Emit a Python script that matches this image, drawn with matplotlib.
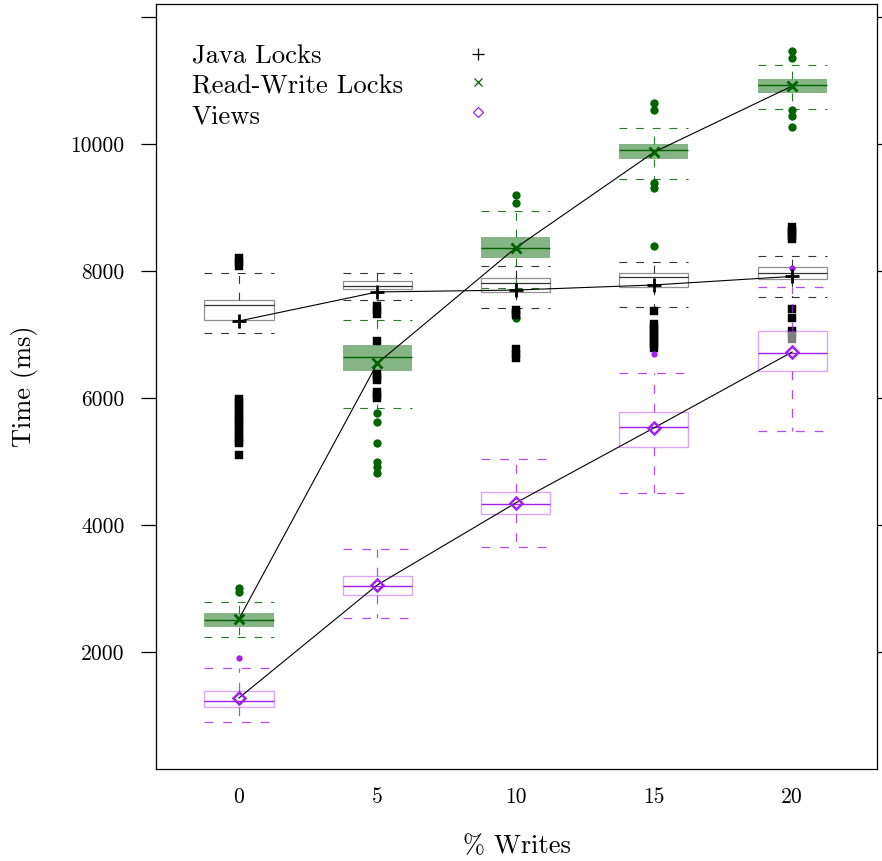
import numpy as np
import matplotlib
matplotlib.use("Agg")
import matplotlib.pyplot as plt

plt.rcParams['font.family'] = 'cmr10'
plt.rcParams['axes.formatter.use_mathtext'] = True

# % writes on the x axis
writes = [0, 5, 10, 15, 20]

# Java Locks box statistics (ms)
java_lo = [7024, 7543, 7417, 7433, 7591]
java_q1 = [7228, 7716, 7669, 7748, 7874]
java_med = [7465, 7764, 7811, 7906, 7968]
java_q3 = [7543, 7842, 7890, 7968, 8063]
java_hi = [7968, 7968, 8079, 8142, 8236]
java_mean = [7213, 7670, 7700, 7780, 7915]
java_out = [[8080, 8140, 8200,
             5990, 5930, 5870, 5810, 5750, 5690, 5630, 5570, 5510, 5450, 5390, 5330, 5290,
             5110],
            [7450, 7390, 7320, 6890, 6380, 6330, 6290, 6090, 6040, 6000],
            [7390, 7340, 7300, 6770, 6700, 6630],
            [7370, 7160, 7110, 7060, 7000, 6950, 6900, 6850, 6790],
            [8700, 8650, 8600, 8550, 8500, 7400, 7260, 7060, 7000, 6930]]

# Read-Write Locks
rw_lo = [2236, 5843, 7732, 9449, 10551]
rw_q1 = [2394, 6425, 8205, 9764, 10803]
rw_med = [2504, 6646, 8362, 9905, 10929]
rw_q3 = [2614, 6835, 8535, 10000, 11024]
rw_hi = [2787, 7228, 8945, 10252, 11244]
rw_mean = [2520, 6545, 8362, 9870, 10913]
rw_out = [[3008, 2945],
          [5764, 5622, 5291, 4992, 4913, 4819],
          [9197, 9071, 7260],
          [10646, 10535, 9386, 9307, 8394],
          [11465, 11354, 10535, 10441, 10268]]

# Views
views_lo = [898, 2535, 3654, 4504, 5480]
views_q1 = [1134, 2898, 4173, 5228, 6425]
views_med = [1228, 3039, 4331, 5543, 6709]
views_q3 = [1386, 3197, 4520, 5780, 7055]
views_hi = [1748, 3622, 5039, 6394, 7748]
views_mean = [1276, 3055, 4346, 5528, 6724]
views_out = [[1906], [], [], [6693], [8047]]

y_ticks = [2000, 4000, 6000, 8000, 10000, 12000]
y_ticklabels = ['2000', '4000', '6000', '8000', '10000', '']


def make_stats(lo, q1, med, q3, hi, out):
    stats = []
    for i in range(len(med)):
        stats.append(dict(whislo=lo[i], q1=q1[i], med=med[i], q3=q3[i],
                          whishi=hi[i], fliers=np.array(out[i], dtype=float)))
    return stats


dash = (0, (7, 8))
fig = plt.figure(figsize=(8.82, 8.61), dpi=100)
ax = fig.add_axes([156 / 882, 92 / 861, 721 / 882, 765 / 861])

green = '#006400'
purple = '#a020f0'

# Read-Write Locks boxes
ax.bxp(make_stats(rw_lo, rw_q1, rw_med, rw_q3, rw_hi, rw_out), positions=writes,
       widths=2.5, capwidths=2.5, patch_artist=True, manage_ticks=False,
       boxprops=dict(facecolor=(0, 0.39, 0, 0.48), edgecolor='none', zorder=2),
       whiskerprops=dict(color=green, linestyle=dash, linewidth=0.8, alpha=0.85, zorder=2),
       capprops=dict(color=green, linestyle=dash, linewidth=0.8, alpha=0.85, zorder=2),
       medianprops=dict(color=green, linewidth=1.0, zorder=2),
       flierprops=dict(marker='o', markersize=6, markerfacecolor=green,
                       markeredgecolor='none', linestyle='none', zorder=2))

# Java Locks boxes
ax.bxp(make_stats(java_lo, java_q1, java_med, java_q3, java_hi, java_out), positions=writes,
       widths=2.5, capwidths=2.5, patch_artist=True, manage_ticks=False,
       boxprops=dict(facecolor='none', edgecolor='#909090', linewidth=0.9, zorder=3),
       whiskerprops=dict(color='black', linestyle=dash, linewidth=0.8, alpha=0.8, zorder=3),
       capprops=dict(color='black', linestyle=dash, linewidth=0.8, alpha=0.8, zorder=3),
       medianprops=dict(color='black', linewidth=0.9, alpha=0.8, zorder=3),
       flierprops=dict(marker='s', markersize=6.2, markerfacecolor='black',
                       markeredgecolor='black', markeredgewidth=0.3,
                       linestyle='none', zorder=3))

# Views boxes
ax.bxp(make_stats(views_lo, views_q1, views_med, views_q3, views_hi, views_out), positions=writes,
       widths=2.5, capwidths=2.5, patch_artist=True, manage_ticks=False,
       boxprops=dict(facecolor=(1, 1, 1, 0.5), edgecolor=(0.63, 0.13, 0.94, 0.4),
                     linewidth=1.0, zorder=4),
       whiskerprops=dict(color=purple, linestyle=dash, linewidth=0.9, alpha=0.8, zorder=4),
       capprops=dict(color=purple, linestyle=dash, linewidth=0.9, alpha=0.8, zorder=4),
       medianprops=dict(color=purple, linewidth=1.0, zorder=4),
       flierprops=dict(marker='o', markersize=4.5, markerfacecolor=purple,
                       markeredgecolor='none', linestyle='none', zorder=4))

# mean lines
ax.plot(writes, java_mean, color='black', lw=0.8, zorder=5)
ax.plot(writes, rw_mean, color='black', lw=0.8, zorder=5)
ax.plot(writes, views_mean, color='black', lw=0.8, zorder=5)
ax.plot(writes, java_mean, ls='none', marker='+', ms=10, mew=2, color='black', zorder=6)
ax.plot(writes, rw_mean, ls='none', marker='x', ms=7.5, mew=2, color=green, zorder=6)
ax.plot(writes, views_mean, ls='none', marker='D', ms=6.5, mew=1.8, mfc='none',
        mec=purple, zorder=6)

# key
names = ['Java Locks', 'Read-Write Locks', 'Views']
key_marker = ['+', 'x', 'D']
key_color = ['black', green, purple]
key_size = [8, 6, 5.5]
text_y = [0.9216, 0.8824, 0.8444]
mark_y = [0.9346, 0.8980, 0.8588]
for i in range(3):
    ax.text(0.0499, text_y[i], names[i], transform=ax.transAxes, fontsize=19.2,
            va='baseline', ha='left')
    ax.plot([0.4466], [mark_y[i]], transform=ax.transAxes, ls='none',
            marker=key_marker[i], ms=key_size[i], mew=0.9, mfc='none',
            color=key_color[i])

ax.set_xlim(-3.0, 23.07)
ax.set_ylim(157, 12205)
ax.set_xticks(writes)
ax.set_xticklabels([str(w) for w in writes])
ax.set_yticks(y_ticks)
ax.set_yticklabels(y_ticklabels)
ax.tick_params(axis='x', length=0, pad=13, labelsize=15.5)
ax.tick_params(axis='y', length=10.8, width=0.9, pad=12, labelsize=15.5,
               direction='out', right=True, labelright=False)
for s in ax.spines.values():
    s.set_linewidth(0.9)

ax.set_xlabel('% Writes', fontsize=19)
ax.set_ylabel('Time (ms)', fontsize=19)
ax.xaxis.set_label_coords(0.5, -0.085)
ax.yaxis.set_label_coords(-0.163, 0.5)

fig.savefig('out.png', dpi=100)
